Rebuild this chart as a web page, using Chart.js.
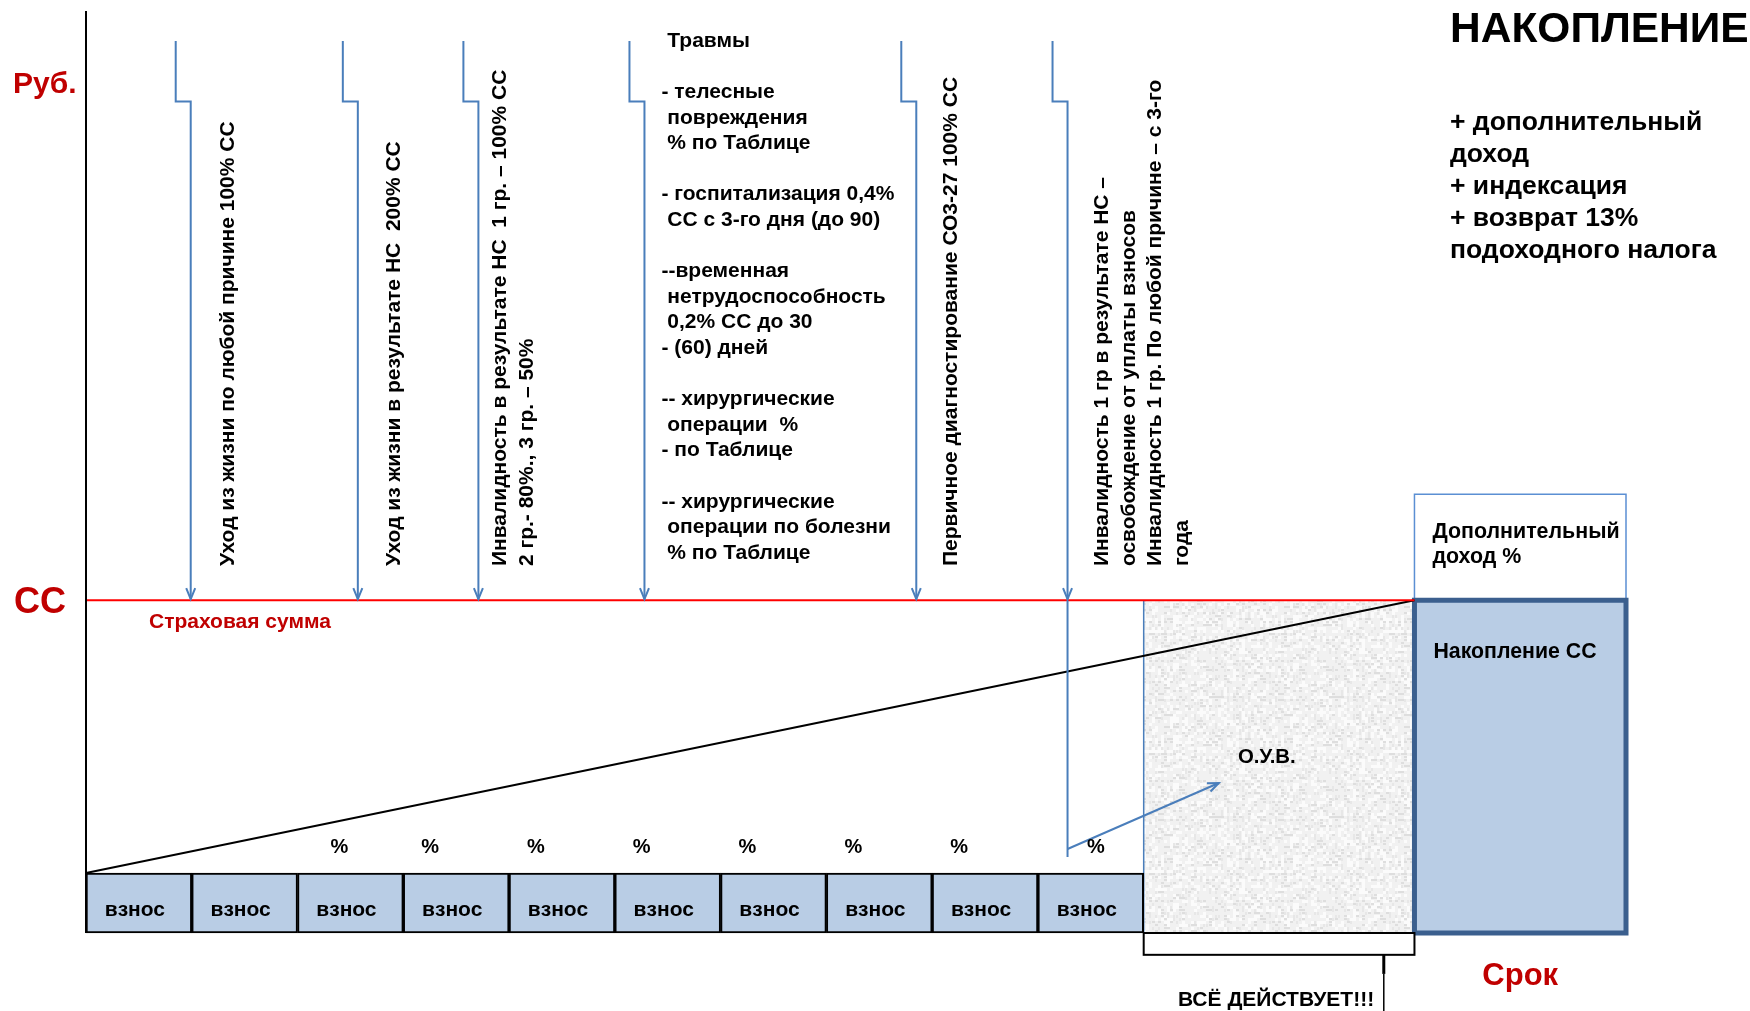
<!DOCTYPE html>
<html lang="ru">
<head>
<meta charset="utf-8">
<title>Накопление</title>
<script src="https://cdn.jsdelivr.net/npm/chart.js@4.4.1/dist/chart.umd.min.js"></script>
<style>
  html, body { margin: 0; padding: 0; background: #fff; }
  #wrap { width: 1750px; height: 1011px; }
</style>
</head>
<body>
<div id="wrap"><canvas id="scheme" width="1750" height="1011"></canvas></div>
<script>
// ---- data (x: periods of the contract, y: money, СС = 100) ----
const contributions = ['взнос', 'взнос', 'взнос', 'взнос', 'взнос', 'взнос', 'взнос', 'взнос', 'взнос', 'взнос'];
const percentMarks = ['', '', '%', '%', '%', '%', '%', '%', '%', '%'];
const sumInsured = 100;
const contributionFloor = -22;
const ovbEnd = 12.56;
const termEnd = 14.56;
const extraIncomeTop = 138.8;

const riskAt = [0.99, 2.57, 3.71, 5.28, 7.85, 9.28];
const riskTop = 305;
const riskStep = 282.8;
const riskLabels = [
    ['Уход из жизни по любой причине 100% СС'],
    ['Уход из жизни в результате НС  200% СС'],
    ['Инвалидность в результате НС  1 гр. – 100% СС', '2 гр.- 80%., 3 гр. – 50%'],
    null,
    ['Первичное диагностирование СО3-27 100% СС'],
    ['Инвалидность 1 гр в результате НС –', 'освобождение от уплаты взносов', 'Инвалидность 1 гр. По любой причине – с 3-го', 'года']
];
const traumaLines = [
    ' Травмы', '',
    '- телесные', ' повреждения', ' % по Таблице', '',
    '- госпитализация 0,4%', ' СС с 3-го дня (до 90)', '',
    '--временная', ' нетрудоспособность', ' 0,2% СС до 30', '- (60) дней', '',
    '-- хирургические', ' операции  %', '- по Таблице', '',
    '-- хирургические', ' операции по болезни', ' % по Таблице'
];
const exemptionEnd = 5.9;
const exemptionFrom = [9.28, 8.8];
const exemptionTo = [10.71, 33];
const bonusLines = ['+ дополнительный', 'доход', '+ индексация', '+ возврат 13%', 'подоходного налога'];

// ---- layout / styles ----
const FONT = '"Liberation Sans", Arial, sans-serif';
const RED = '#c00000';
const BLUE = '#4a7ebb';
const riskLabelDx = [37, 36, 22, 17, 35, 35];
const percentDx = [0, 0, -11, -26, -26, -26, -26, -26, -26, 5];

function paperTexture(ctx) {
    const c = document.createElement('canvas');
    c.width = c.height = 120;
    const g = c.getContext('2d');
    g.fillStyle = '#f1f1f1';
    g.fillRect(0, 0, 120, 120);
    for (let i = 0; i < 120; i += 3) {
        for (let j = 0; j < 120; j += 3) {
            const h = Math.abs(Math.sin(i * 12.9898 + j * 78.233) * 43758.5453) % 1;
            if (h < 0.14) { g.fillStyle = '#dedede'; g.fillRect(i, j, 3, 2); }
            else if (h < 0.28) { g.fillStyle = '#e7e7e7'; g.fillRect(i, j, 2, 3); }
            else if (h > 0.72) { g.fillStyle = '#fbfbfb'; g.fillRect(i, j, 3, 3); }
        }
    }
    return ctx.createPattern(c, 'repeat');
}

function seg(ctx, x1, y1, x2, y2) {
    ctx.beginPath();
    ctx.moveTo(x1, y1);
    ctx.lineTo(x2, y2);
    ctx.stroke();
}

function arrowHead(ctx, fx, fy, tx, ty, len, half) {
    const a = Math.atan2(ty - fy, tx - fx);
    const c = Math.cos(a), s = Math.sin(a);
    ctx.beginPath();
    ctx.moveTo(tx - len * c + half * s, ty - len * s - half * c);
    ctx.lineTo(tx, ty);
    ctx.lineTo(tx - len * c - half * s, ty - len * s + half * c);
    ctx.stroke();
}

function text(ctx, s, x, y, size, color, align) {
    ctx.font = 'bold ' + size + 'px ' + FONT;
    ctx.fillStyle = color || '#000';
    ctx.textAlign = align || 'left';
    ctx.textBaseline = 'middle';
    ctx.fillText(s, x, y);
}

function vText(ctx, lines, x0, yBottom, lh) {
    lines.forEach((s, k) => {
        ctx.save();
        ctx.translate(x0 + k * lh, yBottom);
        ctx.rotate(-Math.PI / 2);
        text(ctx, s, 0, 0, 21);
        ctx.restore();
    });
}

const schemePlugin = {
    id: 'scheme',
    afterDatasetsDraw(chart) {
        const { ctx, scales: { x, y } } = chart;
        const px = v => x.getPixelForValue(v);
        const py = v => y.getPixelForValue(v);
        ctx.save();
        ctx.lineCap = 'butt';

        // vertical axis
        ctx.strokeStyle = '#000';
        ctx.lineWidth = 2;
        seg(ctx, px(0), py(y.max), px(0), py(contributionFloor));

        // bracket under О.У.В.
        ctx.strokeRect(px(contributions.length), py(contributionFloor), px(ovbEnd) - px(contributions.length), py(-30) - py(contributionFloor));
        ctx.lineWidth = 3;
        seg(ctx, px(12.27), py(-30), px(12.27), py(-37));
        ctx.lineWidth = 1.5;
        seg(ctx, px(12.27), py(-37), px(12.27), chart.height);

        // risk arrows
        ctx.strokeStyle = BLUE;
        ctx.lineWidth = 2;
        riskAt.forEach(r => {
            const tip = px(r);
            ctx.beginPath();
            ctx.moveTo(tip - 15, py(riskTop));
            ctx.lineTo(tip - 15, py(riskStep));
            ctx.lineTo(tip, py(riskStep));
            ctx.lineTo(tip, py(sumInsured) - 1);
            ctx.stroke();
            arrowHead(ctx, tip, py(riskStep), tip, py(sumInsured) - 1, 11, 4.5);
        });
        // premium exemption
        const last = px(riskAt[riskAt.length - 1]);
        seg(ctx, last, py(sumInsured), last, py(exemptionEnd));
        const fx = px(exemptionFrom[0]), fy = py(exemptionFrom[1]);
        const tx = px(exemptionTo[0]), ty = py(exemptionTo[1]);
        seg(ctx, fx, fy, tx, ty);
        arrowHead(ctx, fx, fy, tx, ty, 11, 4.5);

        // contribution labels and percents
        const bars = chart.getDatasetMeta(0).data;
        bars.forEach((b, i) => {
            text(ctx, contributions[i], b.x - 4, (b.y + b.base) / 2 + 7, 21, '#000', 'center');
            if (percentMarks[i]) text(ctx, percentMarks[i], b.x + percentDx[i], py(9.2), 20, '#000', 'center');
        });

        // risk texts
        riskLabels.forEach((lines, i) => {
            const tip = px(riskAt[i]);
            if (lines) {
                vText(ctx, lines, tip + riskLabelDx[i], py(112.5), 26.5);
            } else {
                traumaLines.forEach((s, k) => {
                    if (s) text(ctx, s, tip + riskLabelDx[i], py(riskTop) + k * 25.6, 21);
                });
            }
        });

        // axis captions
        text(ctx, 'Руб.', 13, 85, 30, RED);
        text(ctx, 'СС', 14, py(sumInsured) + 3, 36, RED);
        text(ctx, 'Страховая сумма', 149, 622, 21, RED);

        // right side
        text(ctx, 'НАКОПЛЕНИЕ', 1450, 30, 42.5);
        bonusLines.forEach((s, k) => text(ctx, s, 1450, 123 + k * 32, 26.5));
        text(ctx, 'Дополнительный', px(ovbEnd) + 18, 532, 21.4);
        text(ctx, 'доход %', px(ovbEnd) + 18, 557, 21.4);
        text(ctx, 'Накопление СС', px(ovbEnd) + 19, 652, 21.3);
        text(ctx, 'О.У.В.', 1238, 757, 20.4);
        text(ctx, 'Срок', (px(ovbEnd) + px(termEnd)) / 2, 976, 31, RED, 'center');
        text(ctx, 'ВСЁ ДЕЙСТВУЕТ!!!', (px(contributions.length) + px(ovbEnd)) / 2 - 3, 1000, 21, '#000', 'center');

        ctx.restore();
    }
};

const canvas = document.getElementById('scheme');
const texture = paperTexture(canvas.getContext('2d'));

new Chart(canvas, {
    type: 'bar',
    data: {
        datasets: [{
            type: 'bar',
            order: 5,
            data: contributions.map((c, i) => ({ x: i + 0.5, y: [contributionFloor, 0] })),
            backgroundColor: '#b9cde5',
            borderColor: '#000',
            borderWidth: 2,
            borderSkipped: false,
            barPercentage: 1,
            categoryPercentage: 1,
            grouped: false
        }, {
            type: 'line',
            order: 3,
            data: [{ x: 0, y: sumInsured }, { x: ovbEnd, y: sumInsured }],
            borderColor: '#ff0000',
            borderWidth: 2,
            pointRadius: 0
        }, {
            type: 'line',
            order: 4,
            data: [{ x: 0, y: 0 }, { x: ovbEnd, y: sumInsured }],
            borderColor: '#000',
            borderWidth: 2,
            pointRadius: 0
        }, {
            type: 'line',
            order: 10,
            data: [{ x: contributions.length, y: sumInsured }, { x: ovbEnd, y: sumInsured }],
            borderWidth: 0,
            backgroundColor: texture,
            fill: { value: contributionFloor },
            pointRadius: 0
        }, {
            type: 'line',
            order: 9,
            data: [{ x: contributions.length, y: contributionFloor }, { x: contributions.length, y: sumInsured }],
            borderColor: BLUE,
            borderWidth: 1.5,
            pointRadius: 0
        }, {
            type: 'line',
            order: 8,
            data: [{ x: ovbEnd, y: sumInsured }, { x: termEnd, y: sumInsured }],
            borderWidth: 0,
            backgroundColor: '#b9cde5',
            fill: { value: contributionFloor },
            pointRadius: 0
        }, {
            type: 'line',
            order: 7,
            data: [{ x: ovbEnd, y: sumInsured }, { x: ovbEnd, y: extraIncomeTop }, { x: termEnd, y: extraIncomeTop }, { x: termEnd, y: sumInsured }],
            borderColor: '#5b8fd3',
            borderWidth: 1.5,
            pointRadius: 0
        }, {
            type: 'line',
            order: 6,
            data: [{ x: ovbEnd, y: contributionFloor }, { x: ovbEnd, y: sumInsured }, { x: termEnd, y: sumInsured },
                   { x: termEnd, y: contributionFloor }, { x: ovbEnd, y: contributionFloor }],
            borderColor: '#3b5f8e',
            borderWidth: 5,
            borderJoinStyle: 'miter',
            pointRadius: 0
        }]
    },
    options: {
        responsive: false,
        animation: false,
        events: [],
        clip: false,
        layout: { padding: { left: 86, right: 124, top: 11, bottom: 78 } },
        datasets: { line: { clip: false, tension: 0 }, bar: { clip: false } },
        scales: {
            x: {
                type: 'linear', display: false, offset: false, min: 0, max: termEnd,
                grid: { offset: false },
                // one tick per contribution period, so bars span a whole period
                afterBuildTicks: scale => { scale.ticks = contributions.map((c, i) => ({ value: i })); }
            },
            y: { type: 'linear', display: false, min: contributionFloor, max: 316 }
        },
        plugins: { legend: { display: false }, tooltip: { enabled: false } }
    },
    plugins: [schemePlugin]
});
</script>
</body>
</html>
